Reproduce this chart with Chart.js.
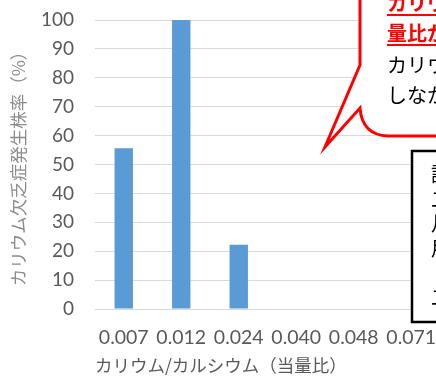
<!DOCTYPE html>
<html>
<head>
<meta charset="utf-8">
<script src="https://cdn.jsdelivr.net/npm/chart.js@4/dist/chart.umd.min.js"></script>
<style>
  html, body { margin: 0; padding: 0; background: #fff; overflow: hidden; }
  #wrap { width: 436px; height: 380px; overflow: hidden; }
</style>
</head>
<body>
<div id="wrap"><canvas id="chart" width="440" height="380"></canvas></div>
<script>
const categories = ['0.007', '0.012', '0.024', '0.040', '0.048', '0.071'];
const incidence = [55.6, 100, 22.2, 0, 0, 0];
const yTitle = 'カリウム欠乏症発生株率（%）';
const xTitle = 'カリウム/カルシウム（当量比）';

const bubbleRed = ['カリウム/カルシウム当', '量比が低いほど発生'];
const bubbleBlack = ['カリウムが不足', 'しなかった'];
const noteLines = ['試験区', '二', '月', '用', '', '二'];

const jp = "'Noto Sans CJK JP', sans-serif";
const num = "Lato, 'Noto Sans CJK JP', sans-serif";

// callout shapes laid over the plot, like the drawn shapes in the original sheet
const callouts = {
    id: 'callouts',
    afterDraw(chart) {
        const ctx = chart.ctx;
        ctx.save();

        // red speech bubble
        ctx.beginPath();
        ctx.moveTo(360, -10);
        ctx.lineTo(360, 65);
        ctx.lineTo(325, 147);
        ctx.lineTo(360, 108);
        ctx.quadraticCurveTo(362, 135, 388, 136);
        ctx.lineTo(450, 136);
        ctx.lineTo(450, -10);
        ctx.closePath();
        ctx.fillStyle = '#ffffff';
        ctx.fill();
        ctx.lineWidth = 3;
        ctx.strokeStyle = '#ff0000';
        ctx.stroke();

        ctx.textAlign = 'left';
        ctx.textBaseline = 'alphabetic';
        ctx.font = 'bold 20px ' + jp;
        ctx.fillStyle = '#ff0000';
        ctx.strokeStyle = '#ff0000';
        ctx.lineWidth = 2;
        bubbleRed.forEach((t, i) => {
            const y = 11 + i * 30;
            ctx.fillText(t, 387, y);
            ctx.beginPath();
            ctx.moveTo(387, y + 4);
            ctx.lineTo(450, y + 4);
            ctx.stroke();
        });
        ctx.font = '20px ' + jp;
        ctx.fillStyle = '#000000';
        bubbleBlack.forEach((t, i) => {
            ctx.fillText(t, 387, 73 + i * 30);
        });

        // black note box
        ctx.beginPath();
        ctx.rect(412, 151, 60, 171);
        ctx.fillStyle = '#ffffff';
        ctx.fill();
        ctx.lineWidth = 2.5;
        ctx.strokeStyle = '#000000';
        ctx.stroke();
        ctx.fillStyle = '#000000';
        noteLines.forEach((t, i) => {
            ctx.fillText(t, 431, 182 + i * 24.5);
        });

        ctx.restore();
    }
};

new Chart(document.getElementById('chart'), {
    type: 'bar',
    data: {
        labels: categories,
        datasets: [
            {
                data: incidence,
                backgroundColor: '#5b9bd5',
                borderWidth: 0,
                barPercentage: 0.32,
                categoryPercentage: 1,
            },
        ],
    },
    options: {
        responsive: false,
        animation: false,
        devicePixelRatio: 1,
        layout: { padding: { top: 20, left: 0, right: 0, bottom: 2 } },
        plugins: {
            legend: { display: false },
            tooltip: { enabled: false },
        },
        scales: {
            x: {
                grid: { display: false, drawTicks: false },
                border: { display: false },
                ticks: {
                    color: '#595959',
                    font: { family: num, size: 19.5 },
                    padding: 17,
                    maxRotation: 0,
                    autoSkip: false,
                },
                title: {
                    display: true,
                    text: xTitle,
                    align: 'start',
                    color: '#595959',
                    font: { family: jp, size: 17.5 },
                    padding: { top: 3, bottom: 2 },
                },
                afterFit(scale) {
                    scale.height = 69;
                    scale.paddingLeft = 0;
                    scale.paddingRight = 0;
                },
            },
            y: {
                min: 0,
                max: 100,
                grid: { color: '#d9d9d9', lineWidth: 1, drawTicks: false },
                border: { display: false },
                ticks: {
                    stepSize: 10,
                    color: '#595959',
                    font: { family: num, size: 19 },
                    padding: 21,
                },
                title: {
                    display: true,
                    text: yTitle,
                    color: '#8c8c8c',
                    font: { family: jp, size: 17.5 },
                    padding: { top: 8, bottom: 12 },
                },
                afterFit(scale) {
                    scale.width = 95;
                    scale.paddingTop = 0;
                    scale.paddingBottom = 0;
                },
            },
        },
    },
    plugins: [callouts],
});
</script>
</body>
</html>
